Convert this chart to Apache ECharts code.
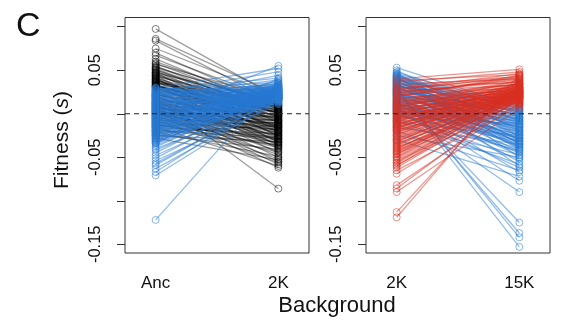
<!DOCTYPE html>
<html><head><meta charset="utf-8">
<script src="https://cdn.jsdelivr.net/npm/echarts@6/dist/echarts.min.js"></script>
<style>html,body{margin:0;padding:0;background:#fff}#c{width:575px;height:336px}</style>
</head><body><div id="c"></div>
<script>
// Categories
const catsLeft = ['Anc', '2K'];
const catsRight = ['2K', '15K'];
// Y ticks / labels
const yTickValues = [-0.15, -0.10, -0.05, 0, 0.05, 0.10];
const yLabelValues = [-0.15, -0.05, 0.05];
// Left panel, black: [Anc, 2K]
const leftBlack = [
 [0.0975,0.018],[0.086,0.022],[0.084,0.012],[0.075,0.02],[0.070,0.008],[0.067,0.015],[0.063,0.005],[0.060,0.01],
 [0.057,0.017],[0.055,-0.002],[0.053,0.012],[0.050,0.004],[0.049,-0.01],[0.047,0.014],[0.046,0.0],[0.045,-0.005],
 [0.043,0.009],[0.042,-0.018],[0.041,0.002],[0.040,-0.012],[0.038,0.006],[0.037,-0.025],[0.036,-0.003],[0.035,0.008],
 [0.034,-0.015],[0.033,-0.008],[0.032,0.001],[0.031,-0.032],[0.030,-0.02],[0.029,-0.006],[0.027,-0.04],[0.025,-0.014],
 [0.024,-0.028],[0.022,-0.002],[0.021,-0.045],[0.020,-0.022],[0.019,-0.086],[0.018,-0.009],[0.017,-0.035],[0.015,-0.05],
 [0.014,-0.016],[0.013,-0.026],[0.012,-0.004],[0.011,-0.055],[0.010,-0.038],[0.009,-0.019],[0.008,-0.03],[0.007,-0.058],
 [0.006,-0.012],[0.005,-0.043],[0.004,-0.024],[0.003,-0.062],[0.002,-0.034],[0.001,-0.047],[0.0,-0.011],[-0.001,-0.021],
 [-0.002,-0.052],[-0.004,-0.029],[-0.005,-0.039],[-0.007,-0.056],[-0.009,-0.033],[-0.011,-0.044],[-0.013,-0.027],
 [-0.015,-0.060],[-0.018,-0.036],[-0.021,-0.049],[-0.024,-0.041],[-0.028,-0.053],
 [0.058,0.006],[0.054,0.01],[0.051,-0.004],[0.048,0.007],[0.044,0.003],[0.039,-0.007],[0.036,0.011],[0.033,-0.013],
 [0.031,0.004],[0.028,-0.009],[0.026,0.002],[0.023,-0.017],[0.021,0.005],[0.019,-0.023],[0.016,-0.006],[0.014,0.009],
 [0.012,-0.029],[0.010,-0.001],[0.008,-0.014],[0.006,0.003],[0.004,-0.019],[0.002,-0.008],[0.0,-0.025],[-0.002,-0.003],
 [-0.004,-0.015],[-0.006,-0.031],[-0.008,-0.007],[-0.010,-0.018],[-0.012,-0.036],[-0.014,-0.01],[-0.016,-0.023],
 [-0.019,-0.028],[-0.022,-0.013],[-0.025,-0.032],
 [0.052,0.0],[0.047,-0.02],[0.044,-0.026],[0.041,-0.033],[0.039,-0.016],[0.037,0.001],[0.034,-0.037],[0.032,-0.021]
];
// Left panel, blue: [Anc, 2K]
const leftBlue = [
 [0.030,0.052],[0.028,0.036],[0.027,0.041],[0.026,0.031],[0.025,0.048],[0.024,0.029],[0.023,0.034],[0.022,0.025],
 [0.021,0.039],[0.020,0.027],[0.019,0.032],[0.018,0.022],[0.017,0.044],[0.016,0.026],[0.015,0.030],[0.014,0.020],
 [0.013,0.035],[0.012,0.024],[0.011,0.028],[0.010,0.018],[0.009,0.033],[0.008,0.023],[0.007,0.026],[0.006,0.015],
 [0.005,0.038],[0.004,0.021],[0.003,0.029],[0.002,0.017],[0.001,0.025],[0.0,0.055],[-0.001,0.020],[-0.002,0.031],
 [-0.003,0.016],[-0.004,0.024],[-0.005,0.027],[-0.006,0.019],[-0.007,0.034],[-0.008,0.022],[-0.009,0.014],[-0.010,0.028],
 [-0.011,0.021],[-0.012,0.025],[-0.013,0.017],[-0.014,0.030],[-0.015,0.023],[-0.016,0.012],[-0.017,0.026],[-0.018,0.019],
 [-0.019,0.040],[-0.020,0.022],[-0.021,0.016],[-0.022,0.029],[-0.023,0.024],[-0.024,0.018],[-0.025,0.027],[-0.026,0.013],
 [-0.027,0.021],[-0.028,0.032],[-0.029,0.019],[-0.030,0.025],[-0.031,0.015],[-0.032,0.022],[-0.033,0.028],[-0.034,0.017],
 [-0.036,0.020],[-0.038,0.024],[-0.040,0.014],[-0.042,0.019],[-0.045,0.026],[-0.048,0.016],[-0.051,0.022],[-0.054,0.011],
 [-0.057,0.018],[-0.059,0.020],[-0.063,0.014],[-0.067,0.023],[-0.071,0.017],[-0.122,0.036],
 [0.0295,0.021],[0.0285,0.027],[0.0265,0.018],[0.0255,0.033],[0.0245,0.024],[0.0235,0.016],[0.0225,0.030],[0.0215,0.022],
 [0.0205,0.035],[0.0195,0.019],[0.0185,0.028],[0.0175,0.023],[0.0165,0.031],[0.0155,0.017],[0.0145,0.026],[0.0135,0.021],
 [0.0125,0.033],[0.0115,0.019],[0.0105,0.025],[0.0095,0.029],[0.0085,0.017],[0.0075,0.022],[0.0065,0.030],[0.0055,0.024],
 [0.0045,0.018],[0.0035,0.027],[0.0025,0.021],[0.0015,0.032],[0.0005,0.019],[-0.0005,0.026],[-0.0015,0.023],[-0.0025,0.017],
 [-0.0035,0.029],[-0.0045,0.021],[-0.0055,0.025],[-0.0065,0.018],[-0.0075,0.027],[-0.0085,0.031],[-0.0095,0.020],
 [-0.0105,0.024],[-0.0115,0.016],[-0.0125,0.028],[-0.0135,0.022],[-0.0145,0.019],[-0.0155,0.026],[-0.0165,0.023],
 [-0.0175,0.030],[-0.0185,0.017],[-0.0195,0.025],[-0.0205,0.021],[-0.022,0.018],[-0.024,0.027],[-0.026,0.022],
 [-0.028,0.016],[-0.030,0.024],[-0.032,0.019],[-0.034,0.025]
];
// Right panel, blue: [2K, 15K]
const rightBlue = [
 [0.053,0.008],[0.050,-0.020],[0.048,0.003],[0.047,-0.035],[0.046,0.010],[0.045,-0.012],[0.044,-0.004],[0.043,-0.050],
 [0.042,0.006],[0.041,-0.025],[0.040,-0.008],[0.039,0.012],[0.038,-0.041],[0.037,-0.016],[0.036,0.001],[0.035,-0.030],
 [0.034,-0.060],[0.033,-0.006],[0.032,0.009],[0.031,-0.022],[0.030,-0.142],[0.029,-0.002],[0.028,-0.153],[0.027,-0.137],
 [0.026,0.004],[0.025,-0.033],[0.024,-0.125],[0.023,-0.010],[0.022,-0.027],[0.021,0.000],[0.020,-0.055],[0.019,-0.018],
 [0.018,-0.038],[0.017,-0.005],[0.016,-0.067],[0.015,-0.048],[0.014,-0.012],[0.013,-0.077],[0.012,-0.024],[0.011,-0.045],
 [0.010,-0.003],[0.009,-0.036],[0.008,-0.090],[0.007,-0.015],[0.006,-0.028],[0.005,-0.044],[0.004,-0.028],[0.003,-0.008],
 [0.002,-0.062],[0.001,-0.020],[0.0,-0.052],[-0.002,-0.032],[-0.004,-0.011],[-0.006,-0.042],[-0.008,-0.058],[-0.010,-0.025],
 [-0.013,-0.047],[-0.016,-0.035],[-0.020,-0.065],[-0.025,-0.050],[-0.030,-0.072],
 [0.0445,0.005],[0.0435,-0.018],[0.0425,-0.031],[0.0415,0.0],[0.0405,-0.038],[0.0395,-0.009],[0.0385,0.007],[0.0375,-0.026],
 [0.0365,-0.014],[0.0355,0.002],[0.0345,-0.034],[0.0335,-0.021],[0.0325,-0.004],[0.0315,0.011],[0.0305,-0.029],[0.0295,-0.016],
 [0.0285,-0.007],[0.0275,-0.039],[0.0265,-0.023],[0.0255,0.003],[0.0245,-0.012],[0.0235,-0.032],[0.0225,-0.001],[0.0215,-0.019],
 [0.0205,-0.043],[0.0185,-0.009],[0.0165,-0.028],[0.0145,0.005],[0.0125,-0.035],[0.0105,-0.015],[0.0085,-0.024],[0.0065,-0.006],
 [0.0045,-0.031],[0.0025,-0.013],[0.0005,-0.040]
];
// Right panel, red: [2K, 15K]
const rightRed = [
 [0.040,0.051],[0.038,0.045],[0.036,0.048],[0.034,0.040],[0.032,0.043],[0.030,0.036],[0.028,0.046],[0.026,0.033],
 [0.024,0.039],[0.022,0.030],[0.020,0.042],[0.018,0.027],[0.016,0.035],[0.014,0.024],[0.013,0.038],[0.012,0.029],
 [0.011,0.021],[0.010,0.032],[0.009,0.026],[0.008,0.019],[0.007,0.034],[0.006,0.023],[0.005,0.028],[0.004,0.017],
 [0.003,0.031],[0.002,0.022],[0.001,0.025],[0.0,0.015],[-0.001,0.030],[-0.002,0.020],[-0.003,0.027],[-0.004,0.018],
 [-0.005,0.024],[-0.006,0.014],[-0.007,0.029],[-0.008,0.021],[-0.009,0.026],[-0.010,0.016],[-0.011,0.023],[-0.012,0.019],
 [-0.013,0.032],[-0.014,0.013],[-0.015,0.025],[-0.016,0.020],[-0.017,0.028],[-0.018,0.017],[-0.019,0.022],[-0.020,0.012],
 [-0.022,0.026],[-0.024,0.019],[-0.026,0.023],[-0.028,0.015],[-0.030,0.021],[-0.032,0.027],[-0.034,0.018],[-0.036,0.024],
 [-0.038,0.011],[-0.040,0.020],[-0.042,0.016],[-0.044,0.022],[-0.046,0.014],[-0.049,0.025],[-0.051,0.018],[-0.054,0.010],
 [-0.057,0.021],[-0.059,0.015],[-0.062,0.020],[-0.065,0.008],[-0.069,0.017],[-0.082,0.012],[-0.086,0.019],[-0.090,0.006],
 [-0.113,0.040],[-0.119,0.045],
 [0.029,0.041],[0.025,0.037],[0.021,0.034],[0.017,0.031],[0.015,0.028],[0.0125,0.035],[0.0105,0.026],[0.0085,0.030],
 [0.0065,0.038],[0.0045,0.024],[0.0025,0.033],[0.0005,0.027],[-0.0015,0.035],[-0.0035,0.022],[-0.0055,0.031],[-0.0075,0.026],
 [-0.0095,0.034],[-0.0115,0.020],[-0.0135,0.028],[-0.0155,0.023],[-0.0175,0.036],[-0.019,0.018],[-0.021,0.030],[-0.023,0.024],
 [-0.025,0.033],[-0.027,0.021],[-0.029,0.027],[-0.031,0.016],[-0.033,0.030],[-0.035,0.022],[-0.037,0.026],[-0.039,0.019],
 [-0.041,0.028],[-0.043,0.024],[-0.045,0.020],[-0.047,0.029],[-0.050,0.023],[-0.053,0.017],[-0.056,0.026],[-0.060,0.024],
 [0.019,0.044],[0.023,0.040],[0.027,0.043]
];

const FONT = '"Liberation Sans", Arial, Helvetica, sans-serif';
const BLACK = 'rgba(0,0,0,0.5)', BLACK_L = 'rgba(0,0,0,0.38)';
const BLUE = 'rgba(40,122,212,0.55)', BLUE_L = 'rgba(40,122,212,0.5)';
const RED = 'rgba(217,48,33,0.55)', RED_L = 'rgba(217,48,33,0.5)';

const chart = echarts.init(document.getElementById('c'), null, {renderer: 'canvas'});

function xAxisFor(idx, cats) {
  return {
    type: 'value', gridIndex: idx, min: 0.75, max: 2.25,
    axisLine: {show: false}, splitLine: {show: false},
    axisTick: {show: true, length: 9, lineStyle: {color: '#333', width: 1}, customValues: [1, 2]},
    axisLabel: {show: true, customValues: [1, 2], formatter: v => cats[Math.round(v) - 1],
      fontFamily: FONT, fontSize: 17, color: '#111', margin: 22}
  };
}
function yAxisFor(idx) {
  return {
    type: 'value', gridIndex: idx, min: -0.16, max: 0.1106,
    axisLine: {show: false}, splitLine: {show: false},
    axisTick: {show: true, length: 8, lineStyle: {color: '#333', width: 1}, customValues: yTickValues},
    axisLabel: {show: true, customValues: yLabelValues, rotate: 90, formatter: v => v.toFixed(2),
      fontFamily: FONT, fontSize: 16.5, color: '#111', margin: 21}
  };
}
function linesSeries(idx, data, color) {
  return {type: 'lines', coordinateSystem: 'cartesian2d', xAxisIndex: idx, yAxisIndex: idx, silent: true,
    animation: false, lineStyle: {color: color, width: 1.3, opacity: 1},
    data: data.map(p => ({coords: [[1, p[0]], [2, p[1]]]}))};
}
function pointsSeries(idx, data, color) {
  const pts = [];
  data.forEach(p => { pts.push([1, p[0]]); pts.push([2, p[1]]); });
  return {type: 'scatter', xAxisIndex: idx, yAxisIndex: idx, silent: true, animation: false,
    symbol: 'circle', symbolSize: 7,
    itemStyle: {color: 'rgba(0,0,0,0)', borderColor: color, borderWidth: 1, opacity: 1},
    data: pts};
}
function zeroLine(idx) {
  return {type: 'line', xAxisIndex: idx, yAxisIndex: idx, silent: true, animation: false, symbol: 'none',
    lineStyle: {color: '#222', width: 1, type: [5, 4]}, data: [[0.75, 0], [2.25, 0]]};
}

chart.setOption({
  animation: false,
  backgroundColor: '#fff',
  grid: [
    {left: 125, top: 17.5, width: 184, height: 235.5, show: true, borderColor: '#333', borderWidth: 1, backgroundColor: 'transparent'},
    {left: 366, top: 17.5, width: 184, height: 235.5, show: true, borderColor: '#333', borderWidth: 1, backgroundColor: 'transparent'}
  ],
  xAxis: [xAxisFor(0, catsLeft), xAxisFor(1, catsRight)],
  yAxis: [yAxisFor(0), yAxisFor(1)],
  series: [
    zeroLine(0), zeroLine(1),
    linesSeries(0, leftBlack, BLACK_L), pointsSeries(0, leftBlack, BLACK),
    linesSeries(0, leftBlue, BLUE_L), pointsSeries(0, leftBlue, BLUE),
    linesSeries(1, rightBlue, BLUE_L), pointsSeries(1, rightBlue, BLUE),
    linesSeries(1, rightRed, RED_L), pointsSeries(1, rightRed, RED)
  ],
  graphic: [
    {type: 'text', left: 16, top: 10, style: {text: 'C', font: '34px ' + FONT, fill: '#111'}},
    {type: 'text', x: 144, y: -12, style: {text: 'E', font: 'italic 16px ' + FONT, fill: '#111'}},
    {type: 'text', x: 62, y: 140, rotation: Math.PI / 2,
      style: {rich: {n: {font: '21px ' + FONT, fill: '#111'}, i: {font: 'italic 21px ' + FONT, fill: '#111'}},
        text: '{n|Fitness (}{i|s}{n|)}', align: 'center', verticalAlign: 'middle'}},
    {type: 'text', x: 337, y: 306, style: {text: 'Background', font: '22px ' + FONT, fill: '#111', align: 'center', verticalAlign: 'middle'}}
  ]
});
</script></body></html>
